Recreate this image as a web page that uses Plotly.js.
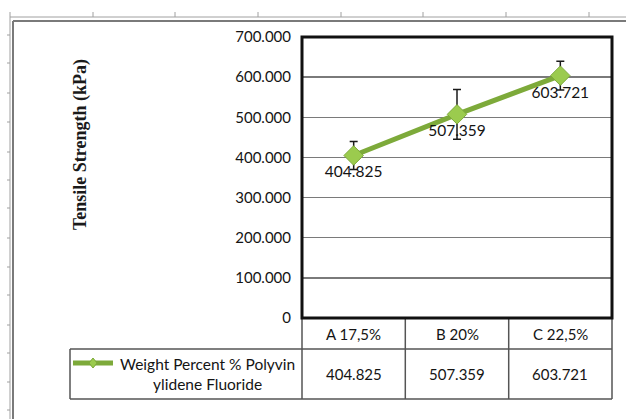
<!DOCTYPE html>
<html>
<head>
<meta charset="utf-8">
<script src="https://cdn.plot.ly/plotly-3.0.1.min.js"></script>
<style>
html,body{margin:0;padding:0;background:#fff;}
#chart{width:626px;height:419px;}
</style>
</head>
<body>
<div id="chart"></div>
<script>
// ---- data ----
var categories = ["A 17,5%", "B 20%", "C 22,5%"];
var tensileStrength = [404.825, 507.359, 603.721];
var errorPlus = [35, 62, 36];
var errorMinus = [35, 62, 36];
var seriesName = "Weight Percent % Polyvin<br>ylidene Fluoride";
var yTickVals = [0, 100, 200, 300, 400, 500, 600, 700];
var yTickText = yTickVals.map(function(v){ return v === 0 ? "0" : v.toFixed(3); });
var yAxisTitle = "Tensile Strength (kPa)";

// ---- geometry helpers (pixel -> paper) ----
var W = 626, H = 419;
var mL = 302, mR = 14, mT = 37, mB = 101;
var pw = W - mL - mR, ph = H - mT - mB;
function px(x){ return (x - mL) / pw; }
function py(y){ return (H - mB - y) / ph; }

var lineGreen = "#7DAA3A";
var markGreen = "#9BCB4E";
var tblColor = "#555555";
var txtColor = "#141414";
var fontFam = "Lato, 'Open Sans', sans-serif";

var trace = {
  x: categories,
  y: tensileStrength,
  type: "scatter",
  mode: "lines+markers+text",
  name: seriesName,
  showlegend: false,
  line: {color: lineGreen, width: 5},
  marker: {symbol: "diamond", size: 15, color: markGreen, line: {color: lineGreen, width: 1}},
  text: tensileStrength.map(function(v){ return v.toFixed(3); }),
  textposition: "bottom center",
  textfont: {family: fontFam, size: 15.5, color: txtColor},
  error_y: {type: "data", symmetric: false, array: errorPlus, arrayminus: errorMinus,
            color: "#1a1a1a", thickness: 1.5, width: 4},
  cliponaxis: false
};

var shapes = [];
function hline(x0, x1, y, c, w){ shapes.push({type:"line", xref:"paper", yref:"paper", x0:px(x0), x1:px(x1), y0:py(y), y1:py(y), line:{color:c, width:w}}); }
function vline(x, y0, y1, c, w){ shapes.push({type:"line", xref:"paper", yref:"paper", x0:px(x), x1:px(x), y0:py(y0), y1:py(y1), line:{color:c, width:w}}); }

// spreadsheet ruler + chart border
hline(10, 626, 17, "#a0a0a0", 1);
[10, 93, 175, 258, 341, 423, 506, 589].forEach(function(x){ vline(x, 12, 17, "#a0a0a0", 1); });
vline(10, 17, 419, "#a0a0a0", 1);
[35, 63, 93, 122, 152, 180, 208, 238, 267, 295, 325, 353, 382, 410].forEach(function(y){ hline(7, 10, y, "#a0a0a0", 1); });
hline(13, 626, 21, "#7a7a7a", 2);
vline(13, 21, 419, "#7a7a7a", 2);

// data table lines
var colEdges = [302, 405.3, 508.7, 612];
colEdges.forEach(function(x){ vline(x, 318, 399, tblColor, 1.5); });
hline(302, 612, 318, tblColor, 1.5);
hline(70, 612, 349, tblColor, 1.5);
hline(70, 612, 399, tblColor, 1.5);
vline(70, 349, 399, tblColor, 1.5);

// legend key inside table
hline(73, 113, 363, lineGreen, 5);
shapes.push({type:"path", xref:"paper", yref:"paper",
  path: "M " + px(93) + " " + py(358) + " L " + px(97) + " " + py(363) + " L " + px(93) + " " + py(368) + " L " + px(89) + " " + py(363) + " Z",
  fillcolor: markGreen, line:{color: lineGreen, width: 1}});

// plot frame
shapes.push({type:"rect", xref:"paper", yref:"paper", x0:0, x1:1, y0:0, y1:1, line:{color:"#111", width:3}, layer:"above"});

var annotations = [];
// y-axis title
annotations.push({xref:"paper", yref:"paper", x:px(80), y:py(144), xanchor:"center", yanchor:"middle",
  text:"<b>" + yAxisTitle + "</b>",
  textangle:-90, showarrow:false, font:{family:"'Liberation Serif', 'DejaVu Serif', serif", size:18, color:"#1a1a1a"}});
// table header and values
categories.forEach(function(c, i){
  annotations.push({xref:"x", yref:"paper", x:c, y:py(334), xanchor:"center", yanchor:"middle",
    text:c, showarrow:false, font:{family:fontFam, size:15, color:txtColor}});
  annotations.push({xref:"x", yref:"paper", x:c, y:py(374), xanchor:"center", yanchor:"middle",
    text:tensileStrength[i].toFixed(3), showarrow:false, font:{family:fontFam, size:15, color:txtColor}});
});
// series name in table
annotations.push({xref:"paper", yref:"paper", x:px(207), y:py(374), xanchor:"center", yanchor:"middle",
  text:seriesName, showarrow:false, align:"center", font:{family:fontFam, size:15.5, color:txtColor}});

var layout = {
  width: W, height: H,
  margin: {l: mL, r: mR, t: mT, b: mB, pad: 0},
  paper_bgcolor: "#fff", plot_bgcolor: "#fff",
  showlegend: false,
  xaxis: {type: "category", range: [-0.5, 2.5], showticklabels: false, showgrid: false,
          zeroline: false, showline: false, ticks: ""},
  yaxis: {range: [0, 700], tickvals: yTickVals, ticktext: yTickText,
          tickfont: {family: fontFam, size: 15, color: txtColor},
          ticks: "outside", ticklen: 7, tickcolor: "rgba(0,0,0,0)",
          showgrid: true, gridcolor: "#7a7a7a", gridwidth: 1.5, zeroline: false, showline: false},
  shapes: shapes,
  annotations: annotations
};

Plotly.newPlot("chart", [trace], layout, {displayModeBar: false, staticPlot: true});
</script>
</body>
</html>
